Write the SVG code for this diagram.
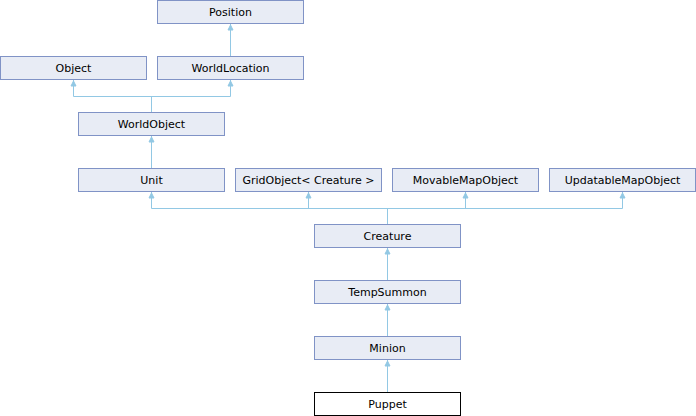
<svg xmlns="http://www.w3.org/2000/svg" width="696" height="416" viewBox="0 0 696 416">
<defs>
<style>
.box rect{fill:#e8ecf5;stroke:#8093c6;stroke-width:1}
.cur rect{fill:#ffffff;stroke:#000000;stroke-width:1}
text{font-family:"DejaVu Sans",Verdana,sans-serif;font-size:11px;fill:#000;text-anchor:middle}
.edges path{fill:none;stroke:#92c8e4;stroke-width:1}
.edges polygon{fill:#92c8e4;stroke:#92c8e4;stroke-width:1}
</style>
</defs>
<rect width="696" height="416" fill="#ffffff"/>
<g class="edges" id="connectors">
<path d="M230.5,24V56"/>
<polygon points="230.5,25 228,30 233,30"/>
<path d="M151.5,112V96.5M73.5,96.5H230.5M73.5,80V96.5M230.5,80V96.5"/>
<polygon points="73.5,81 71,86 76,86"/>
<polygon points="230.5,81 228,86 233,86"/>
<path d="M151.5,136V168"/>
<polygon points="151.5,137 149,142 154,142"/>
<path d="M387.5,224V208.5M151.5,208.5H622.5M151.5,192V208.5M308.5,192V208.5M465.5,192V208.5M622.5,192V208.5"/>
<polygon points="151.5,193 149,198 154,198"/>
<polygon points="308.5,193 306,198 311,198"/>
<polygon points="465.5,193 463,198 468,198"/>
<polygon points="622.5,193 620,198 625,198"/>
<path d="M387.5,248V280"/>
<polygon points="387.5,249 385,254 390,254"/>
<path d="M387.5,304V336"/>
<polygon points="387.5,305 385,310 390,310"/>
<path d="M387.5,360V392"/>
<polygon points="387.5,361 385,366 390,366"/>
</g>
<g id="Position" class="box"><rect x="157.5" y="0.5" width="146" height="23"/><text x="230.5" y="15.5">Position</text></g>
<g id="Object" class="box"><rect x="0.5" y="56.5" width="146" height="23"/><text x="73.5" y="71.5">Object</text></g>
<g id="WorldLocation" class="box"><rect x="157.5" y="56.5" width="146" height="23"/><text x="230.5" y="71.5">WorldLocation</text></g>
<g id="WorldObject" class="box"><rect x="78.5" y="112.5" width="146" height="23"/><text x="151.5" y="127.5">WorldObject</text></g>
<g id="Unit" class="box"><rect x="78.5" y="168.5" width="146" height="23"/><text x="151.5" y="183.5">Unit</text></g>
<g id="GridObject" class="box"><rect x="235.5" y="168.5" width="146" height="23"/><text x="308.5" y="183.5" xml:space="preserve">GridObject&lt; Creature &gt;</text></g>
<g id="MovableMapObject" class="box"><rect x="392.5" y="168.5" width="146" height="23"/><text x="465.5" y="183.5">MovableMapObject</text></g>
<g id="UpdatableMapObject" class="box"><rect x="549.5" y="168.5" width="146" height="23"/><text x="622.5" y="183.5">UpdatableMapObject</text></g>
<g id="Creature" class="box"><rect x="314.5" y="224.5" width="146" height="23"/><text x="387.5" y="239.5">Creature</text></g>
<g id="TempSummon" class="box"><rect x="314.5" y="280.5" width="146" height="23"/><text x="387.5" y="295.5">TempSummon</text></g>
<g id="Minion" class="box"><rect x="314.5" y="336.5" width="146" height="23"/><text x="387.5" y="351.5">Minion</text></g>
<g id="Puppet" class="cur"><rect x="314.5" y="392.5" width="146" height="23"/><text x="387.5" y="407.5">Puppet</text></g>
</svg>
